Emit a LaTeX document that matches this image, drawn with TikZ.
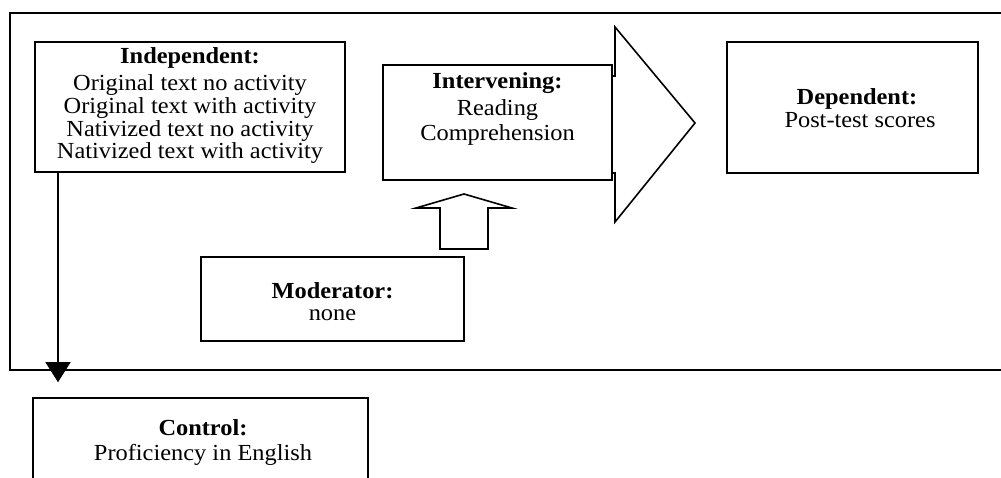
\documentclass[tikz,border=0pt]{standalone}
\usepackage{fontspec}
\setmainfont{Liberation Serif}[FakeStretch=1.06]
\usetikzlibrary{arrows.meta}
\begin{document}
\begin{tikzpicture}[x=1pt,y=-1pt,
  line width=1.6pt,
  box/.style={draw, rectangle, inner sep=0pt},
  lbl/.style={anchor=base, inner sep=0pt, font=\fontsize{23}{26}\selectfont},
  head/.style={lbl, font=\fontsize{23}{26}\selectfont\bfseries},
  blockarrow/.style={draw, line join=miter}]
\useasboundingbox (0,0) rectangle (1001,477);

% outer frame, open to the right
\draw (1012,13) -- (10,13) -- (10,370) -- (1012,370);

% boxes
\node[box, minimum width=310pt, minimum height=130pt] (indep) at (190,107) {};
\node[box, minimum width=229pt, minimum height=115pt] (inter) at (497.5,122.5) {};
\node[box, minimum width=251pt, minimum height=131pt] (dep) at (852.5,107.5) {};
\node[box, minimum width=263pt, minimum height=84pt] (moder) at (332.5,299) {};
\node[box, minimum width=335pt, minimum height=110pt] (ctrl) at (200.5,453) {};

% texts
\node[head] (indep-h) at (190,63) {Independent:};
\node[lbl] (indep-1) at (190,90) {Original text no activity};
\node[lbl] (indep-2) at (190,113) {Original text with activity};
\node[lbl] (indep-3) at (190,136) {Nativized text no activity};
\node[lbl] (indep-4) at (190,158) {Nativized text with activity};

\node[head] (inter-h) at (497.5,88) {Intervening:};
\node[lbl] (inter-1) at (497.5,115) {Reading};
\node[lbl] (inter-2) at (497.5,140) {Comprehension};

\node[head] (dep-h) at (857,104) {Dependent:};
\node[lbl] (dep-1) at (860,127) {Post-test scores};

\node[head] (moder-h) at (332.5,298) {Moderator:};
\node[lbl] (moder-1) at (332.5,320) {none};

\node[head] (ctrl-h) at (203,435) {Control:};
\node[lbl] (ctrl-1) at (203,460) {Proficiency in English};

% block arrow head continuing the intervening box towards the dependent box
\draw[blockarrow] (inter.east |- 0,76) -- (615,76) -- (615,27) -- (695,123)
  -- (615,222) -- (615,173) -- (inter.east |- 0,173);

% upward block arrow from the moderator box
\draw[blockarrow] (440,249) -- (440,208) -- (416,208) -- (464,194)
  -- (512,208) -- (488,208) -- (488,249) -- cycle;

% independent to control
\coordinate (down) at (58,0);
\draw[-{Triangle[length=20pt,width=25pt]}, line width=1.3pt]
  (down |- indep.south) -- ([yshift=15pt]down |- ctrl.north);
\end{tikzpicture}
\end{document}
